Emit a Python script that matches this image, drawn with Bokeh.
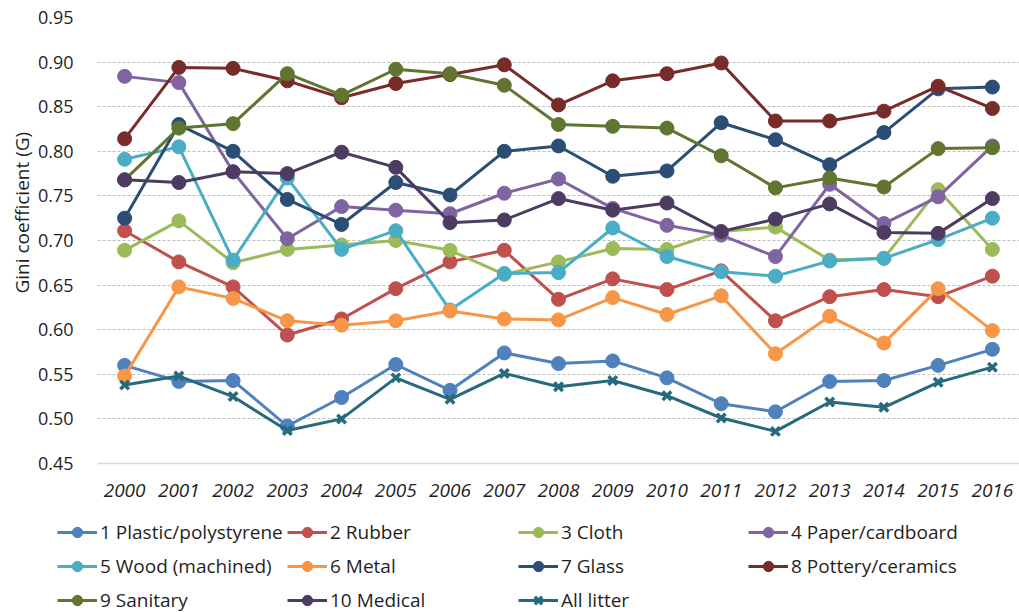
from bokeh.plotting import figure
from bokeh.models import Legend, LegendItem, FixedTicker, Range1d, Title
from bokeh.embed import file_html
from bokeh.resources import INLINE

years = list(range(2000, 2017))
year_labels = [str(y) for y in years]
y_ticks = [0.45, 0.50, 0.55, 0.60, 0.65, 0.70, 0.75, 0.80, 0.85, 0.90, 0.95]

plastic = [0.560, 0.542, 0.543, 0.492, 0.524, 0.561, 0.532, 0.574, 0.562, 0.565, 0.546, 0.517, 0.508, 0.542, 0.543, 0.560, 0.578]
rubber = [0.711, 0.676, 0.648, 0.594, 0.612, 0.646, 0.676, 0.689, 0.634, 0.657, 0.645, 0.666, 0.610, 0.637, 0.645, 0.637, 0.660]
cloth = [0.689, 0.722, 0.675, 0.690, 0.695, 0.700, 0.689, 0.662, 0.676, 0.691, 0.690, 0.710, 0.715, 0.678, 0.680, 0.757, 0.690]
paper = [0.884, 0.877, 0.777, 0.702, 0.738, 0.734, 0.730, 0.753, 0.769, 0.736, 0.717, 0.706, 0.682, 0.763, 0.719, 0.749, 0.806]
wood = [0.791, 0.805, 0.678, 0.770, 0.690, 0.711, 0.622, 0.663, 0.664, 0.714, 0.682, 0.665, 0.660, 0.677, 0.680, 0.701, 0.725]
metal = [0.548, 0.648, 0.635, 0.610, 0.605, 0.610, 0.621, 0.612, 0.611, 0.636, 0.617, 0.638, 0.573, 0.615, 0.585, 0.646, 0.599]
glass = [0.725, 0.830, 0.800, 0.746, 0.718, 0.765, 0.751, 0.800, 0.806, 0.772, 0.778, 0.832, 0.813, 0.785, 0.821, 0.870, 0.872]
pottery = [0.814, 0.894, 0.893, 0.879, 0.860, 0.876, 0.886, 0.897, 0.852, 0.879, 0.887, 0.899, 0.834, 0.834, 0.845, 0.873, 0.848]
sanitary = [0.768, 0.826, 0.831, 0.887, 0.863, 0.892, 0.887, 0.874, 0.830, 0.828, 0.826, 0.795, 0.759, 0.770, 0.760, 0.803, 0.804]
medical = [0.768, 0.765, 0.777, 0.775, 0.799, 0.782, 0.720, 0.723, 0.747, 0.734, 0.742, 0.710, 0.724, 0.741, 0.709, 0.708, 0.747]
all_litter = [0.538, 0.548, 0.525, 0.487, 0.500, 0.546, 0.522, 0.551, 0.536, 0.543, 0.526, 0.501, 0.486, 0.519, 0.513, 0.541, 0.558]

series_names = ["1 Plastic/polystyrene", "2 Rubber", "3 Cloth", "4 Paper/cardboard",
                "5 Wood (machined)", "6 Metal", "7 Glass", "8 Pottery/ceramics",
                "9 Sanitary", "10 Medical", "All litter"]
series_values = [plastic, rubber, cloth, paper, wood, metal, glass, pottery, sanitary, medical, all_litter]
series_colors = ["#4F81BD", "#C0504D", "#9BBB59", "#8064A2", "#4BACC6", "#F79646",
                 "#2C4D75", "#772C2A", "#5F7530", "#4D3B62", "#276A7C"]
series_markers = ["circle"] * 10 + ["x"]

FONT = "Open Sans"
TXT = "#1f1f1f"


def draw_series(fig, name, vals, col, mk):
    r1 = fig.line(years, vals, line_color=col, line_width=3)
    if mk == "circle":
        r2 = fig.scatter(years, vals, marker="circle", size=14, fill_color=col, line_color=col, line_width=1)
    else:
        r2 = fig.scatter(years, vals, marker="x", size=12, line_color=col, line_width=3.5)
    return [r1, r2]


# ---- main chart ----
p = figure(width=1019, height=510, output_backend="svg", toolbar_location=None,
           min_border_left=97, min_border_right=0, min_border_top=17, min_border_bottom=47)
p.x_range = Range1d(1999.5, 2016.5)
p.y_range = Range1d(0.45, 0.95)
p.outline_line_color = None

p.xaxis.ticker = FixedTicker(ticks=years)
p.xaxis.major_label_overrides = {y: l for y, l in zip(years, year_labels)}
p.xaxis.major_label_text_font = FONT
p.xaxis.major_label_text_font_style = "italic"
p.xaxis.major_label_text_font_size = "19px"
p.xaxis.major_label_text_color = TXT
p.xaxis.major_label_standoff = 14
p.xaxis.major_tick_line_color = None
p.xaxis.minor_tick_line_color = None
p.xaxis.axis_line_color = "#D9D9D9"
p.xaxis.axis_line_width = 1.5

p.yaxis.ticker = FixedTicker(ticks=y_ticks)
p.yaxis.major_label_overrides = {t: f"{t:.2f}" for t in y_ticks}
p.yaxis.major_label_text_font = FONT
p.yaxis.major_label_text_font_size = "18px"
p.yaxis.major_label_text_color = TXT
p.yaxis.major_label_standoff = 18
p.yaxis.major_tick_line_color = None
p.yaxis.minor_tick_line_color = None
p.yaxis.axis_line_color = None

ytitle = Title(text="Gini coefficient (G)", align="left", offset=170,
               text_font=FONT, text_font_style="normal", text_font_size="19px",
               text_color=TXT, standoff=0)
p.add_layout(ytitle, "left")

p.xgrid.grid_line_color = None
p.ygrid.ticker = FixedTicker(ticks=y_ticks[1:])
p.ygrid.grid_line_color = "#BDBDBD"
p.ygrid.grid_line_dash = "3 2"
p.ygrid.grid_line_width = 1

for name, vals, col, mk in zip(series_names, series_values, series_colors, series_markers):
    draw_series(p, name, vals, col, mk)

# ---- legend strip: same series, drawn outside its (unit) view so only the legend shows ----
pl = figure(width=1019, height=102, output_backend="svg", toolbar_location=None,
            min_border=0, x_range=Range1d(0, 1), y_range=Range1d(0, 1))
pl.axis.visible = False
pl.grid.visible = False
pl.outline_line_color = None

items = {}
for name, vals, col, mk in zip(series_names, series_values, series_colors, series_markers):
    items[name] = draw_series(pl, name, vals, col, mk)

columns = [
    ["1 Plastic/polystyrene", "5 Wood (machined)", "9 Sanitary"],
    ["2 Rubber", "6 Metal", "10 Medical"],
    ["3 Cloth", "7 Glass", "All litter"],
    ["4 Paper/cardboard", "8 Pottery/ceramics"],
]
col_x = [57, 287, 518, 748]
top = 9
ih, sp = 26, 8
for names, cx in zip(columns, col_x):
    n = len(names)
    h = n * ih + (n - 1) * sp
    leg = Legend(items=[LegendItem(label=nm, renderers=items[nm]) for nm in names],
                 location=(cx, 102 - (top + h)), orientation="vertical",
                 margin=0, padding=0, spacing=sp, glyph_width=40, glyph_height=ih,
                 label_standoff=3, label_height=ih,
                 label_text_font=FONT, label_text_font_size="19px", label_text_color=TXT,
                 border_line_color=None, background_fill_alpha=0)
    pl.add_layout(leg, "center")

open("out.html", "w").write(file_html([p, pl], INLINE))
